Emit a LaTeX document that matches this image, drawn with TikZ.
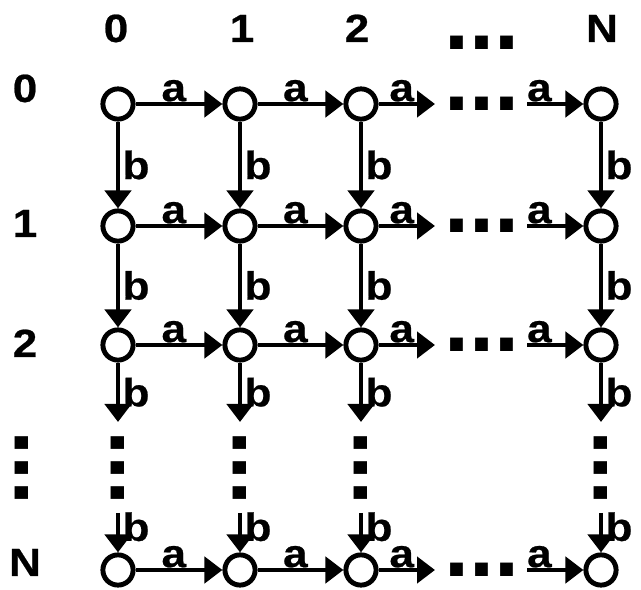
\documentclass[tikz,border=0pt]{standalone}
\usepackage{fontspec}
\setmainfont{Liberation Sans}
\newfontfamily\widefont[FakeStretch=1.12, FakeBold=0.6]{Liberation Sans Bold}
\usetikzlibrary{arrows.meta}

\begin{document}
\begin{tikzpicture}[
    x=0.025cm, y=-0.025cm,
    state/.style={circle, draw, line width=3.5pt, minimum size=21.5pt, inner sep=0pt},
    arr/.style={-{Triangle[length=12.8pt, width=18.5pt]}, line width=3.5pt},
    lbl/.style={font=\fontsize{28}{30}\widefont},
    alab/.style={lbl, above, inner sep=0pt},
    blab/.style={lbl, right, inner sep=1.5pt},
    dots/.style={font=\fontsize{64}{64}\selectfont\bfseries, inner sep=0pt},
]
\useasboundingbox (0,0) rectangle (641,590);

% states
\foreach \r/\y in {0/104, 1/226, 2/345, N/570}
  \foreach \c/\x in {0/118, 1/240, 2/361, N/601}
    \node[state] (s\r\c) at (\x,\y) {};

% horizontal arrows (a)
\foreach \r/\y in {0/104, 1/226, 2/345, N/570} {
  \coordinate (e\r) at (435,\y);
  \coordinate (f\r) at (527,\y);
  \draw[arr] (s\r0) -- node[alab, pos=0.44]{a} (s\r1);
  \draw[arr] (s\r1) -- node[alab, pos=0.44]{a} (s\r2);
  \draw[arr] (s\r2) -- node[alab, pos=0.41]{a} (e\r);
  \node[dots] (h\r) at (482,\y) {...};
  \draw[arr] (f\r) -- node[alab, pos=0.22]{a} (s\r N);
}

% vertical arrows (b)
\foreach \c/\x in {0/118, 1/240, 2/361, N/601} {
  \coordinate (g\c) at (\x,422);
  \coordinate (k\c) at (\x,513);
  \draw[arr] (s0\c) -- node[blab]{b} (s1\c);
  \draw[arr] (s1\c) -- node[blab]{b} (s2\c);
  \draw[arr] (s2\c) -- node[blab]{b} (g\c);
  \node[dots, rotate=90] (v\c) at (\x,468) {...};
  \draw[arr] (k\c) -- node[blab, pos=0.35]{b} (sN\c);
}

% row and column labels
\foreach \c/\x in {0/116, 1/242, 2/357, N/602}
  \node[lbl, anchor=base] (col\c) at (\x,42) {\c};
\node[dots] (coldots) at (482,43) {...};
\foreach \r/\y in {0/102, 1/237, 2/357, N/576}
  \node[lbl, anchor=base] (row\r) at (25,\y) {\r};
\node[dots, rotate=90] (rowdots) at (22,468) {...};
\end{tikzpicture}
\end{document}
